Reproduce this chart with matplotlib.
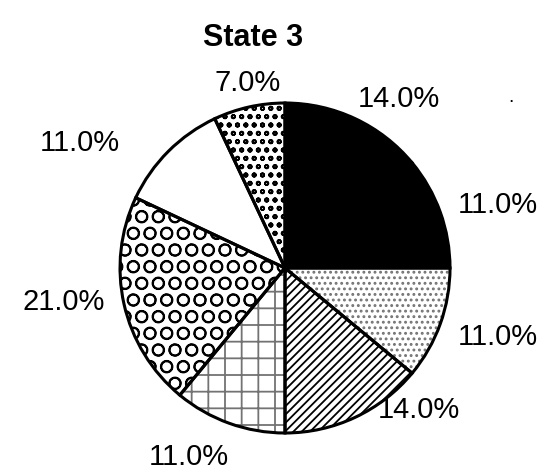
import matplotlib
matplotlib.use('Agg')
import matplotlib.pyplot as plt
from matplotlib.transforms import offset_copy

# slice data, clockwise from 12 o'clock
shares = [14.0, 11.0, 11.0, 14.0, 11.0, 21.0, 11.0, 7.0]
labels = ['%.1f%%' % s for s in shares]
fills = ['black', 'black', 'white', 'white', 'white', 'white', 'white', 'white']
hatches = [None, None, '...', '////', '+', 'O', None, 'oo']
hatch_cols = ['black', 'black', '0.45', 'black', '0.45', 'black', 'black', 'black']

# small hand nudges for the labels (pixels, right / up)
label_nudge = [(-5, 5), (2, 2), (2, -8), (15, 22), (5, -18), (-3, 6), (-37, -3), (35, 8)]

plt.rcParams['font.family'] = ['Liberation Sans', 'DejaVu Sans']
plt.rcParams['hatch.linewidth'] = 1.3

fig = plt.figure(figsize=(5.46, 4.71), dpi=100)
ax = fig.add_axes([0.2198, 0.0807, 0.6044, 0.7006])

# filled / hatched wedges
wedges, texts = ax.pie(shares, labels=labels, startangle=90, counterclock=False,
                       labeldistance=1.1, textprops={'fontsize': 21})
for w, fc, h, hc in zip(wedges, fills, hatches, hatch_cols):
    w.set_facecolor(fc)
    w.set_edgecolor(hc)
    w.set_linewidth(0)
    if h:
        w.set_hatch(h)

for t, (dx, dy) in zip(texts, label_nudge):
    t.set_transform(offset_copy(t.get_transform(), fig=fig, x=dx, y=dy, units='dots'))

# black outlines on top
outline, _ = ax.pie(shares, startangle=90, counterclock=False,
                    wedgeprops={'facecolor': 'none', 'edgecolor': 'black', 'linewidth': 2.2})

ax.set_xlim(-1, 1)
ax.set_ylim(-1, 1)
ax.set_aspect('equal')
ax.axis('off')

fig.text(253 / 546, 1 - 38 / 471, 'State 3', ha='center', va='center',
         fontsize=22, fontweight='bold')
fig.text(511 / 546, 1 - 98 / 471, '.', ha='center', va='center', fontsize=14)

fig.savefig('out.png', dpi=100)
